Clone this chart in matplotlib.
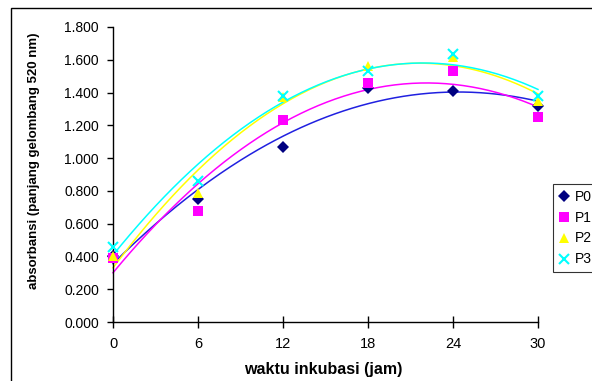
import numpy as np
import matplotlib
matplotlib.use("Agg")
import matplotlib.pyplot as plt
from matplotlib.patches import Rectangle

plt.rcParams['font.family'] = ['Liberation Sans', 'DejaVu Sans']

hours = [0, 6, 12, 18, 24, 30]
p0 = [0.40, 0.75, 1.07, 1.43, 1.41, 1.32]
p1 = [0.39, 0.68, 1.23, 1.46, 1.53, 1.25]
p2 = [0.40, 0.79, 1.37, 1.56, 1.62, 1.35]
p3 = [0.46, 0.86, 1.38, 1.53, 1.635, 1.38]
series_names = ["P0", "P1", "P2", "P3"]
y_ticks = [0.0, 0.2, 0.4, 0.6, 0.8, 1.0, 1.2, 1.4, 1.6, 1.8]
x_ticks = [0, 6, 12, 18, 24, 30]

styles = [
    dict(marker='D', mc='#000080', lc='#2020E0', ms=6, mew=0),
    dict(marker='s', mc='#FF00FF', lc='#FF00FF', ms=6.5, mew=0),
    dict(marker='^', mc='#FFFF00', lc='#FFFF00', ms=7.5, mew=0),
    dict(marker='x', mc='#00FFFF', lc='#00FFFF', ms=7.5, mew=1.5),
]

fig = plt.figure(figsize=(5.92, 3.81), dpi=100)
ax = fig.add_axes([113/592, 1-322/381, (538-113)/592, (322-27)/381])

xs = np.array(hours, dtype=float)
xf = np.linspace(0, 30, 200)
handles = []
for name, ys, st in zip(series_names, [p0, p1, p2, p3], styles):
    coef = np.polyfit(xs, np.array(ys), 2)
    ax.plot(xf, np.polyval(coef, xf), color=st['lc'], lw=1.1, zorder=2, clip_on=False)
    h, = ax.plot(hours, ys, linestyle='none', marker=st['marker'], color=st['mc'],
                 markersize=st['ms'], markeredgewidth=st['mew'], zorder=3, clip_on=False,
                 label=name)
    handles.append(h)

ax.set_xlim(0, 30)
ax.set_ylim(0, 1.8)
ax.set_xticks(x_ticks)
ax.set_xticklabels([str(t) for t in x_ticks])
ax.set_yticks(y_ticks)
ax.set_yticklabels([f"{v:.3f}" for v in y_ticks])
for s in ['top', 'right']:
    ax.spines[s].set_visible(False)
for s in ['left', 'bottom']:
    ax.spines[s].set_linewidth(1.0)
ax.tick_params(axis='y', direction='out', length=4, width=1, labelsize=10, pad=6)
ax.tick_params(axis='x', direction='inout', length=8, width=1, labelsize=10.5, pad=7)

ax.set_xlabel("waktu inkubasi (jam)", fontsize=11.5, fontweight='bold')
ax.xaxis.set_label_coords(0.495, -0.135)
ax.set_ylabel("absorbansi (panjang gelombang 520 nm)", fontsize=9.5, fontweight='bold')
ax.yaxis.set_label_coords(-0.171, 0.546)

leg = fig.legend(handles=handles, loc='upper left', bbox_to_anchor=(553/592, 1-184/381),
                 frameon=True, fancybox=False, edgecolor='black', fontsize=10,
                 handlelength=0.8, handletextpad=0.4, borderpad=0.4, labelspacing=0.5,
                 borderaxespad=0)
leg.get_frame().set_linewidth(0.8)

fig.patches.append(Rectangle((11/592, -0.1), 1.2, 1-8/381+0.1, fill=False,
                             edgecolor='black', lw=1.0, transform=fig.transFigure))

fig.savefig("out.png", dpi=100)
